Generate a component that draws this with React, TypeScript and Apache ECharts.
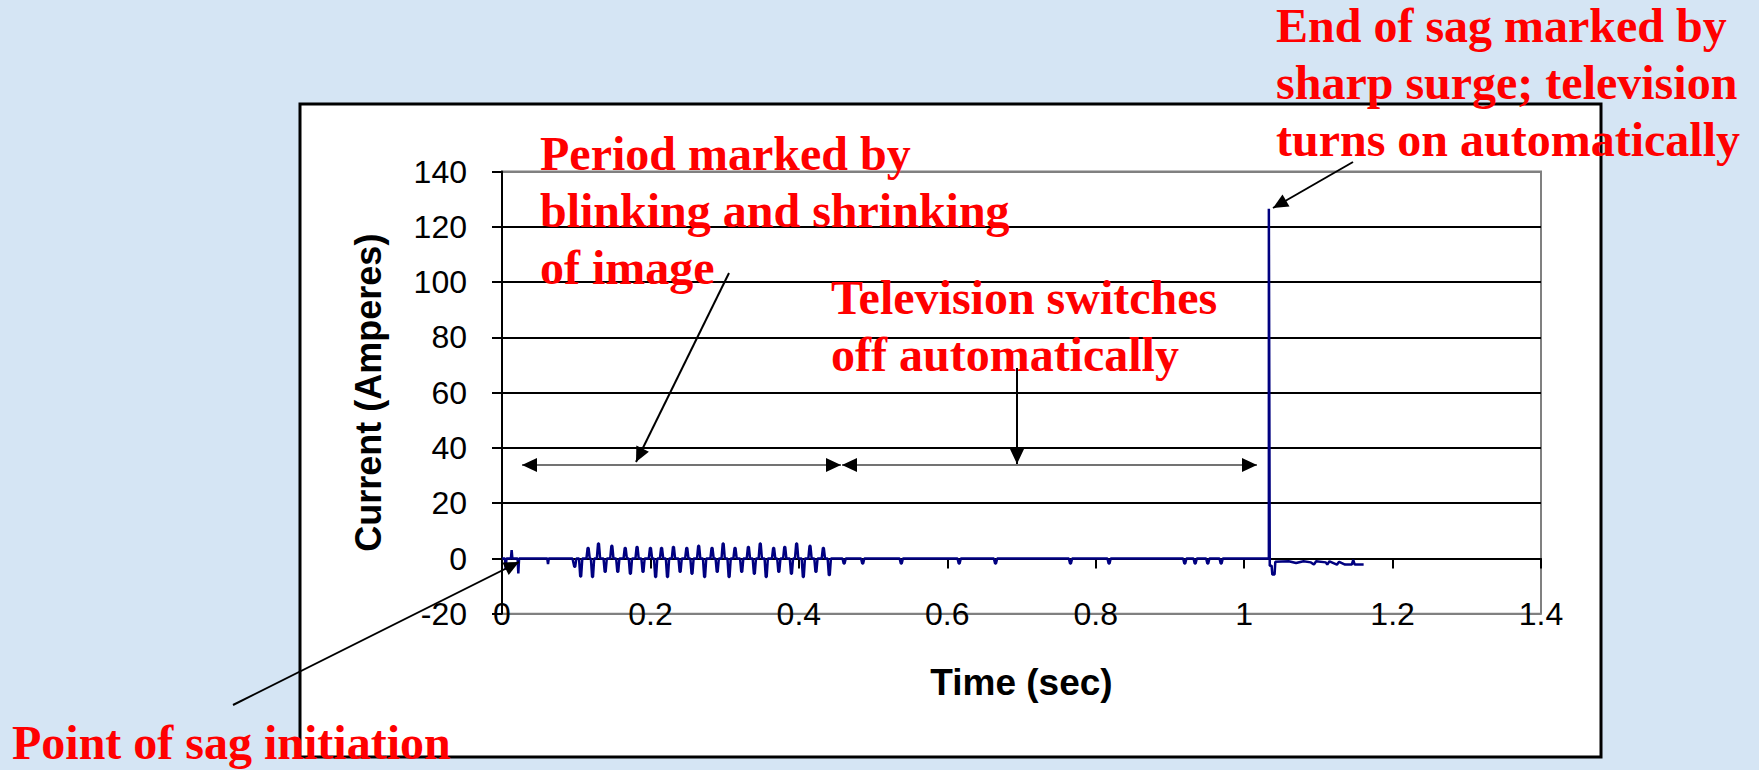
import React, { useEffect, useRef } from "react";
import * as echarts from "echarts";

// ---- axis ticks ----
const currentTicks = [-20, 0, 20, 40, 60, 80, 100, 120, 140];
const timeTicks = [0, 0.2, 0.4, 0.6, 0.8, 1.0, 1.2, 1.4];

// ---- data (time in s, current in A) ----
// start of the sag: [time, current]
const sagStartTrace: [number, number][] = [
  [0, 0], [0.004, 0], [0.005, -4.0], [0.006, 0], [0.012, 0], [0.013, 3.0], [0.014, 0],
  [0.021, 0], [0.022, -5.4], [0.023, 0], [0.061, 0], [0.062, -2.0], [0.063, 0], [0.095, 0],
];
// blinking / shrinking period: narrow current pulses [time, peak current]
const blinkPulses: [number, number][] = [
  [0.098, -3.0], [0.106, -6.5], [0.116, 3.8], [0.122, -6.7], [0.130, 5.4], [0.139, -4.8],
  [0.148, 4.6], [0.156, -4.8], [0.166, 3.8], [0.173, -5.5], [0.182, 4.2], [0.190, -4.8],
  [0.200, 3.8], [0.207, -6.7], [0.215, 3.8], [0.223, -6.7], [0.231, 4.2], [0.240, -4.8],
  [0.249, 3.8], [0.256, -5.5], [0.265, 4.6], [0.273, -6.7], [0.283, 3.8], [0.290, -4.8],
  [0.298, 5.4], [0.306, -6.7], [0.314, 3.8], [0.323, -4.8], [0.332, 4.2], [0.340, -5.5],
  [0.348, 5.4], [0.356, -6.7], [0.366, 3.8], [0.373, -4.8], [0.381, 4.2], [0.390, -5.5],
  [0.397, 5.4], [0.406, -6.7], [0.415, 4.6], [0.423, -4.8], [0.433, 3.8], [0.441, -6.0],
];
// television off: small pulses [time, peak current]
const offPulses: [number, number][] = [
  [0.461, -1.8], [0.486, -1.8], [0.538, -1.8], [0.616, -1.8], [0.665, -1.8], [0.766, -1.8],
  [0.818, -1.8], [0.920, -1.8], [0.934, -1.8], [0.951, -1.8], [0.969, -1.8],
];
// end of sag: surge and recovery [time, current]
const surgeTrace: [number, number][] = [
  [1.0333, 0], [1.0333, 126.5], [1.0345, -2.6], [1.037, -2.6], [1.038, -5.8], [1.041, -5.8],
  [1.042, -1.2], [1.06, -1.0], [1.07, -1.6], [1.08, -1.0], [1.09, -1.4], [1.094, -2.2],
  [1.097, -1.0], [1.11, -1.4], [1.112, -2.2], [1.115, -1.0], [1.125, -2.2], [1.128, -1.2],
  [1.136, -2.2], [1.145, -2.2], [1.147, -0.5], [1.149, -2.2], [1.161, -2.2],
];

const PULSE_HALF_WIDTH = 0.0022;

function pulsesToLine(pulses: [number, number][]): [number, number][] {
  const out: [number, number][] = [];
  pulses.forEach(([t, a]) => {
    out.push([t - PULSE_HALF_WIDTH, 0], [t - 0.0006, a], [t + 0.0006, a], [t + PULSE_HALF_WIDTH, 0]);
  });
  return out;
}

const RED = "#ff0000";
const SERIF = "Liberation Serif";
const SANS = "Liberation Sans";

function redLine(text: string, x: number, y: number) {
  return {
    type: "text",
    z: 100,
    x,
    y,
    style: {
      text,
      fill: RED,
      fontFamily: SERIF,
      fontWeight: "bold",
      fontSize: 48,
      align: "left",
      verticalAlign: "middle",
    },
  };
}

function arrow(x1: number, y1: number, x2: number, y2: number, both = false, color = "#000", width = 2) {
  const head = (tx: number, ty: number, fx: number, fy: number) => {
    const dx = tx - fx, dy = ty - fy;
    const d = Math.hypot(dx, dy);
    const ux = dx / d, uy = dy / d;
    const len = 15, half = 7;
    const bx = tx - ux * len, by = ty - uy * len;
    return {
      type: "polygon",
      z: 50,
      shape: { points: [[tx, ty], [bx - uy * half, by + ux * half], [bx + uy * half, by - ux * half]] },
      style: { fill: "#000" },
    };
  };
  const els: any[] = [
    { type: "line", z: 50, shape: { x1, y1, x2, y2 }, style: { stroke: color, lineWidth: width } },
    head(x2, y2, x1, y1),
  ];
  if (both) els.push(head(x1, y1, x2, y2));
  return els;
}

export default function App() {
  const ref = useRef<HTMLDivElement>(null);
  useEffect(() => {
    if (!ref.current) return;
    const chart = echarts.init(ref.current, undefined, { renderer: "svg" });
    const data: [number, number][] = [
      ...sagStartTrace,
      ...pulsesToLine(blinkPulses),
      [0.45, 0],
      ...pulsesToLine(offPulses),
      [1.03, 0],
      ...surgeTrace,
    ];
    const tMin = timeTicks[0];
    const tMax = timeTicks[timeTicks.length - 1];
    const tStep = Math.round((timeTicks[1] - timeTicks[0]) * 10) / 10;
    const cMin = currentTicks[0];
    const cMax = currentTicks[currentTicks.length - 1];
    const cStep = currentTicks[1] - currentTicks[0];
    const splitColors = currentTicks.map((v) => (v === cMin || v === cMax ? "#808080" : "#000000"));

    chart.setOption({
      animation: false,
      backgroundColor: "#d5e5f4",
      grid: {
        left: 502,
        top: 171.5,
        width: 1039,
        height: 442.3,
        show: true,
        borderColor: "#808080",
        borderWidth: 2,
        backgroundColor: "transparent",
      },
      xAxis: [
        {
          type: "value",
          min: tMin,
          max: tMax,
          interval: tStep,
          position: "bottom",
          axisLine: { show: true, onZero: true, lineStyle: { color: "#000", width: 2 } },
          axisTick: { show: true, length: 10, lineStyle: { color: "#000", width: 2 } },
          axisLabel: { show: false },
          splitLine: { show: false },
        },
        {
          type: "value",
          min: tMin,
          max: tMax,
          interval: tStep,
          position: "bottom",
          axisLine: { show: false, onZero: false },
          axisTick: { show: false },
          splitLine: { show: false },
          axisLabel: {
            show: true,
            margin: 0,
            verticalAlign: "middle",
            color: "#000",
            fontFamily: SANS,
            fontSize: 32,
            showMinLabel: true,
            showMaxLabel: true,
          },
          name: "Time (sec)",
          nameLocation: "middle",
          nameGap: 50,
          nameTextStyle: { color: "#000", fontFamily: SANS, fontWeight: "bold", fontSize: 37 },
        },
      ],
      yAxis: {
        type: "value",
        min: cMin,
        max: cMax,
        interval: cStep,
        axisLine: { show: true, lineStyle: { color: "#000", width: 2 } },
        axisTick: { show: true, length: 10, lineStyle: { color: "#000", width: 2 } },
        axisLabel: { color: "#000", fontFamily: SANS, fontSize: 32, margin: 35 },
        splitLine: { show: true, lineStyle: { color: splitColors, width: 2 } },
        name: "Current (Amperes)",
        nameLocation: "middle",
        nameRotate: 90,
        nameGap: 116,
        nameTextStyle: { color: "#000", fontFamily: SANS, fontWeight: "bold", fontSize: 36 },
      },
      series: [
        {
          type: "line",
          xAxisIndex: 0,
          yAxisIndex: 0,
          data,
          showSymbol: false,
          symbol: "none",
          lineStyle: { color: "#000080", width: 2.5 },
          z: 3,
        },
      ],
      graphic: [
        {
          type: "rect",
          z: -10,
          shape: { x: 300, y: 104, width: 1301, height: 653 },
          style: { fill: "#ffffff", stroke: "#000", lineWidth: 3 },
        },
        ...arrow(729, 273, 636, 462),
        ...arrow(522, 465, 841, 465, true, "#444", 1.5),
        ...arrow(842, 465, 1257, 465, true, "#444", 1.5),
        ...arrow(1017, 368, 1017, 464),
        ...arrow(1353, 162, 1273, 208),
        ...arrow(233, 705, 519, 562),
        redLine("Period marked by", 540, 153),
        redLine("blinking and shrinking", 540, 210),
        redLine("of image", 540, 267),
        redLine("Television switches", 831, 297),
        redLine("off automatically", 831, 354),
        redLine("End of sag marked by", 1276, 25.5),
        redLine("sharp surge; television", 1276, 82),
        redLine("turns on automatically", 1276, 139.5),
        redLine("Point of sag initiation", 12, 742),
      ],
    });
    return () => chart.dispose();
  }, []);
  return (
    <div
      ref={ref}
      style={{ position: "fixed", left: 0, top: 0, width: 1759, height: 770 }}
    />
  );
}
